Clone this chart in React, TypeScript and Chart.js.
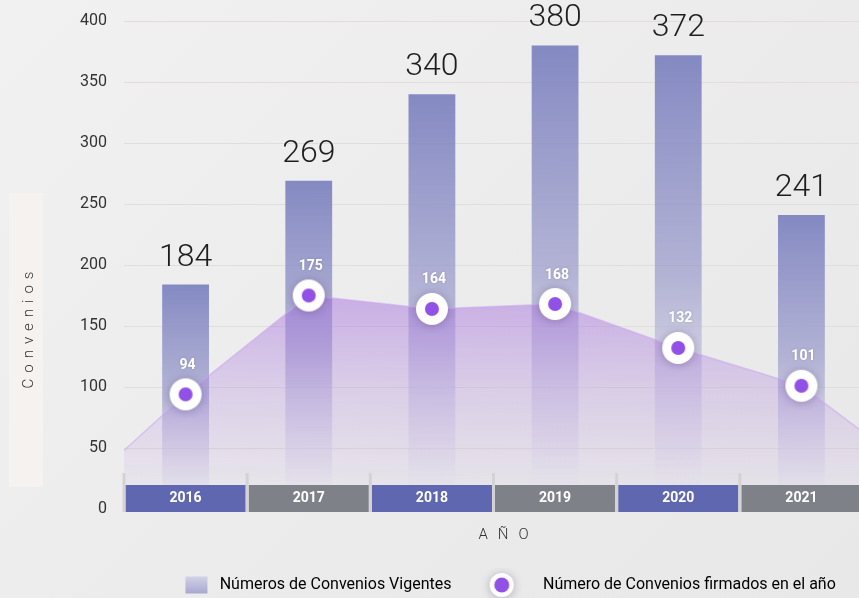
import React, { useEffect, useRef } from 'react';
import { Chart, registerables } from 'chart.js';

Chart.register(...registerables);

// ---------- data ----------
const years = ['2016', '2017', '2018', '2019', '2020', '2021'];
const conveniosVigentes = [184, 269, 340, 380, 372, 241];
const conveniosFirmados = [94, 175, 164, 168, 132, 101];
// the shaded area keeps going to the edges of the plot
const areaEdgeLeft = 48;
const areaEdgeRight = 63;
const seriesNames = ['Números de Convenios Vigentes', 'Número de Convenios firmados en el año'];
const yAxisTitle = 'Convenios';
const xAxisTitle = 'AÑO';
const yMin = 0;
const yMax = 400;
const yStep = 50;

const FONT = 'Roboto, "Noto Sans", "DejaVu Sans", sans-serif';
const bandColors = ['#5f67b1', '#7e8187'];
const PURPLE = '#9150e6';

function makeRing(w: number, h: number, cx: number, cy: number, outer: number, inner: number) {
  const c = document.createElement('canvas');
  c.width = w;
  c.height = h;
  const g = c.getContext('2d')!;
  g.save();
  g.shadowColor = 'rgba(70,50,100,0.35)';
  g.shadowBlur = 10;
  g.shadowOffsetY = 1;
  g.fillStyle = '#ffffff';
  g.beginPath();
  g.arc(cx, cy, outer, 0, Math.PI * 2);
  g.fill();
  g.restore();
  g.fillStyle = PURPLE;
  g.beginPath();
  g.arc(cx, cy, inner, 0, Math.PI * 2);
  g.fill();
  return c;
}

function makeLegendBox() {
  const c = document.createElement('canvas');
  c.width = 66;
  c.height = 20;
  const g = c.getContext('2d')!;
  const gr = g.createLinearGradient(0, 1.5, 0, 18.5);
  gr.addColorStop(0, '#d2d2e7');
  gr.addColorStop(1, '#a8a8d2');
  g.fillStyle = gr;
  g.fillRect(37, 1.5, 22, 17);
  return c;
}

export default function App() {
  const ref = useRef<HTMLCanvasElement | null>(null);

  useEffect(() => {
    const canvas = ref.current;
    if (!canvas) return;

    const pointImg = makeRing(48, 48, 24, 24, 16, 7);
    const legendRing = makeRing(66, 34, 30, 17, 12, 7.5);
    const legendBox = makeLegendBox();

    const decor = {
      id: 'decor',
      beforeDraw(chart: any) {
        const { ctx } = chart;
        ctx.save();
        ctx.fillStyle = '#f6f2ef';
        ctx.fillRect(9, 193, 34, 294);
        ctx.fillStyle = '#333333';
        ctx.font = `300 15px ${FONT}`;
        ctx.letterSpacing = '6px';
        ctx.translate(29, 330);
        ctx.rotate(-Math.PI / 2);
        ctx.textAlign = 'center';
        ctx.textBaseline = 'middle';
        ctx.fillText(yAxisTitle, 3, 0);
        ctx.restore();
      },
      afterDatasetsDraw(chart: any) {
        const { ctx, chartArea } = chart;
        const xs = chart.scales.x;
        const n = years.length;
        const w = xs.getPixelForValue(1) - xs.getPixelForValue(0);
        const b = chartArea.bottom;
        ctx.save();
        // category band
        for (let i = 0; i < n; i++) {
          const c = xs.getPixelForValue(i);
          ctx.fillStyle = bandColors[i % 2];
          ctx.fillRect(c - w / 2 + 1.5, b - 24, w - 3, 27);
        }
        ctx.fillStyle = '#d3d3d3';
        for (let i = 0; i <= n; i++) {
          const c = xs.getPixelForValue(i - 0.5);
          ctx.fillRect(c - 1.5, b - 36, 3, 39);
        }
        // bar value labels
        const barMeta = chart.getDatasetMeta(2);
        ctx.textAlign = 'center';
        ctx.textBaseline = 'middle';
        ctx.font = `300 32px ${FONT}`;
        ctx.fillStyle = '#1e1e1e';
        barMeta.data.forEach((el: any, i: number) => {
          ctx.fillText(String(conveniosVigentes[i]), el.x, el.y - 27);
        });
        // point value labels
        const ptMeta = chart.getDatasetMeta(0);
        ctx.font = `bold 14px ${FONT}`;
        ctx.fillStyle = '#ffffff';
        ctx.shadowColor = 'rgba(0,0,0,0.18)';
        ctx.shadowBlur = 3;
        ptMeta.data.forEach((el: any, i: number) => {
          ctx.fillText(String(conveniosFirmados[i]), el.x + 2, el.y - 29);
        });
        ctx.shadowColor = 'transparent';
        ctx.shadowBlur = 0;
        // x axis title
        ctx.font = `300 15px ${FONT}`;
        ctx.fillStyle = '#333333';
        ctx.letterSpacing = '10px';
        ctx.fillText(xAxisTitle, (chartArea.left + chartArea.right) / 2 + 15, 535);
        ctx.restore();
      },
    };

    const barGradient = (c: any) => {
      const chart = c.chart;
      if (!chart.chartArea || c.type !== 'data') return 'rgba(150,152,205,0.85)';
      const ys = chart.scales.y;
      const top = ys.getPixelForValue(c.raw);
      const bot = ys.getPixelForValue(0);
      const g = chart.ctx.createLinearGradient(0, top, 0, bot);
      g.addColorStop(0, 'rgba(120,126,189,0.9)');
      g.addColorStop(0.5, 'rgba(166,166,208,0.8)');
      g.addColorStop(0.88, 'rgba(220,216,232,0.45)');
      g.addColorStop(1, 'rgba(236,236,240,0)');
      return g;
    };

    const areaGradient = (c: any) => {
      const chart = c.chart;
      if (!chart.chartArea) return 'rgba(160,100,220,0.4)';
      const ys = chart.scales.y;
      const g = chart.ctx.createLinearGradient(0, ys.getPixelForValue(200), 0, ys.getPixelForValue(0));
      g.addColorStop(0, 'rgba(160,100,220,0.55)');
      g.addColorStop(0.5, 'rgba(165,115,220,0.25)');
      g.addColorStop(1, 'rgba(170,130,220,0.02)');
      return g;
    };

    const areaData = [
      { x: -0.5, y: areaEdgeLeft },
      ...conveniosFirmados.map((v, i) => ({ x: i, y: v })),
      { x: years.length - 0.5, y: areaEdgeRight },
    ];

    const chart = new Chart(canvas, {
      type: 'bar',
      data: {
        labels: years,
        datasets: [
          {
            type: 'line',
            label: seriesNames[1],
            data: conveniosFirmados,
            xAxisID: 'x',
            showLine: false,
            pointStyle: pointImg as any,
            pointRadius: 16,
            order: 1,
          } as any,
          {
            type: 'line',
            label: 'area',
            data: areaData as any,
            xAxisID: 'x2',
            fill: 'origin',
            backgroundColor: areaGradient,
            borderColor: 'rgba(200,165,240,0.55)',
            borderWidth: 1.5,
            pointRadius: 0,
            tension: 0,
            order: 2,
          } as any,
          {
            type: 'bar',
            label: seriesNames[0],
            data: conveniosVigentes,
            backgroundColor: barGradient,
            grouped: false,
            categoryPercentage: 1,
            barPercentage: 0.38,
            order: 3,
          } as any,
        ],
      },
      options: {
        animation: false,
        responsive: false,
        devicePixelRatio: 1,
        layout: { padding: { top: 21, right: 15, left: 0, bottom: 0 } },
        plugins: {
          tooltip: { enabled: false },
          legend: {
            position: 'bottom',
            fullSize: false,
            align: 'center',
            labels: {
              usePointStyle: true,
              pointStyleWidth: 60.5,
              padding: 23,
              color: '#333333',
              font: { family: FONT, size: 16 },
              generateLabels: () => [
                {
                  text: seriesNames[0],
                  pointStyle: legendBox as any,
                  fillStyle: '#b8b8dc',
                  strokeStyle: 'transparent',
                  lineWidth: 0,
                  hidden: false,
                  datasetIndex: 2,
                },
                {
                  text: seriesNames[1],
                  pointStyle: legendRing as any,
                  fillStyle: PURPLE,
                  strokeStyle: 'transparent',
                  lineWidth: 0,
                  hidden: false,
                  datasetIndex: 0,
                },
              ],
            },
          },
        },
        scales: {
          x: {
            type: 'category',
            offset: true,
            grid: { display: false, drawTicks: false },
            border: { display: false },
            ticks: {
              z: 1,
              mirror: true,
              padding: 2.6,
              color: '#ffffff',
              font: { family: FONT, size: 14, weight: 'bold' },
              maxRotation: 0,
              autoSkip: false,
            },
            afterFit: (s: any) => {
              s.height = 45;
            },
          },
          x2: {
            type: 'linear',
            display: false,
            offset: false,
            min: -0.5,
            max: years.length - 0.5,
          },
          y: {
            min: yMin,
            max: yMax,
            grid: { color: '#e2dcda', drawTicks: true, tickLength: 13, tickColor: 'rgba(0,0,0,0)' },
            border: { display: false },
            ticks: {
              stepSize: yStep,
              padding: 4,
              color: '#333333',
              font: { family: FONT, size: 16 },
            },
            afterFit: (s: any) => {
              s.width = 124;
            },
          },
        },
      } as any,
      plugins: [decor],
    });

    return () => chart.destroy();
  }, []);

  return (
    <div
      style={{
        position: 'fixed',
        left: 0,
        top: 0,
        width: 859,
        height: 598,
        overflow: 'hidden',
        background: 'linear-gradient(135deg, #f1f1f1 0%, #ebebeb 60%, #e8e8e8 100%)',
      }}
    >
      <canvas ref={ref} width={880} height={603} style={{ display: 'block' }} />
    </div>
  );
}
